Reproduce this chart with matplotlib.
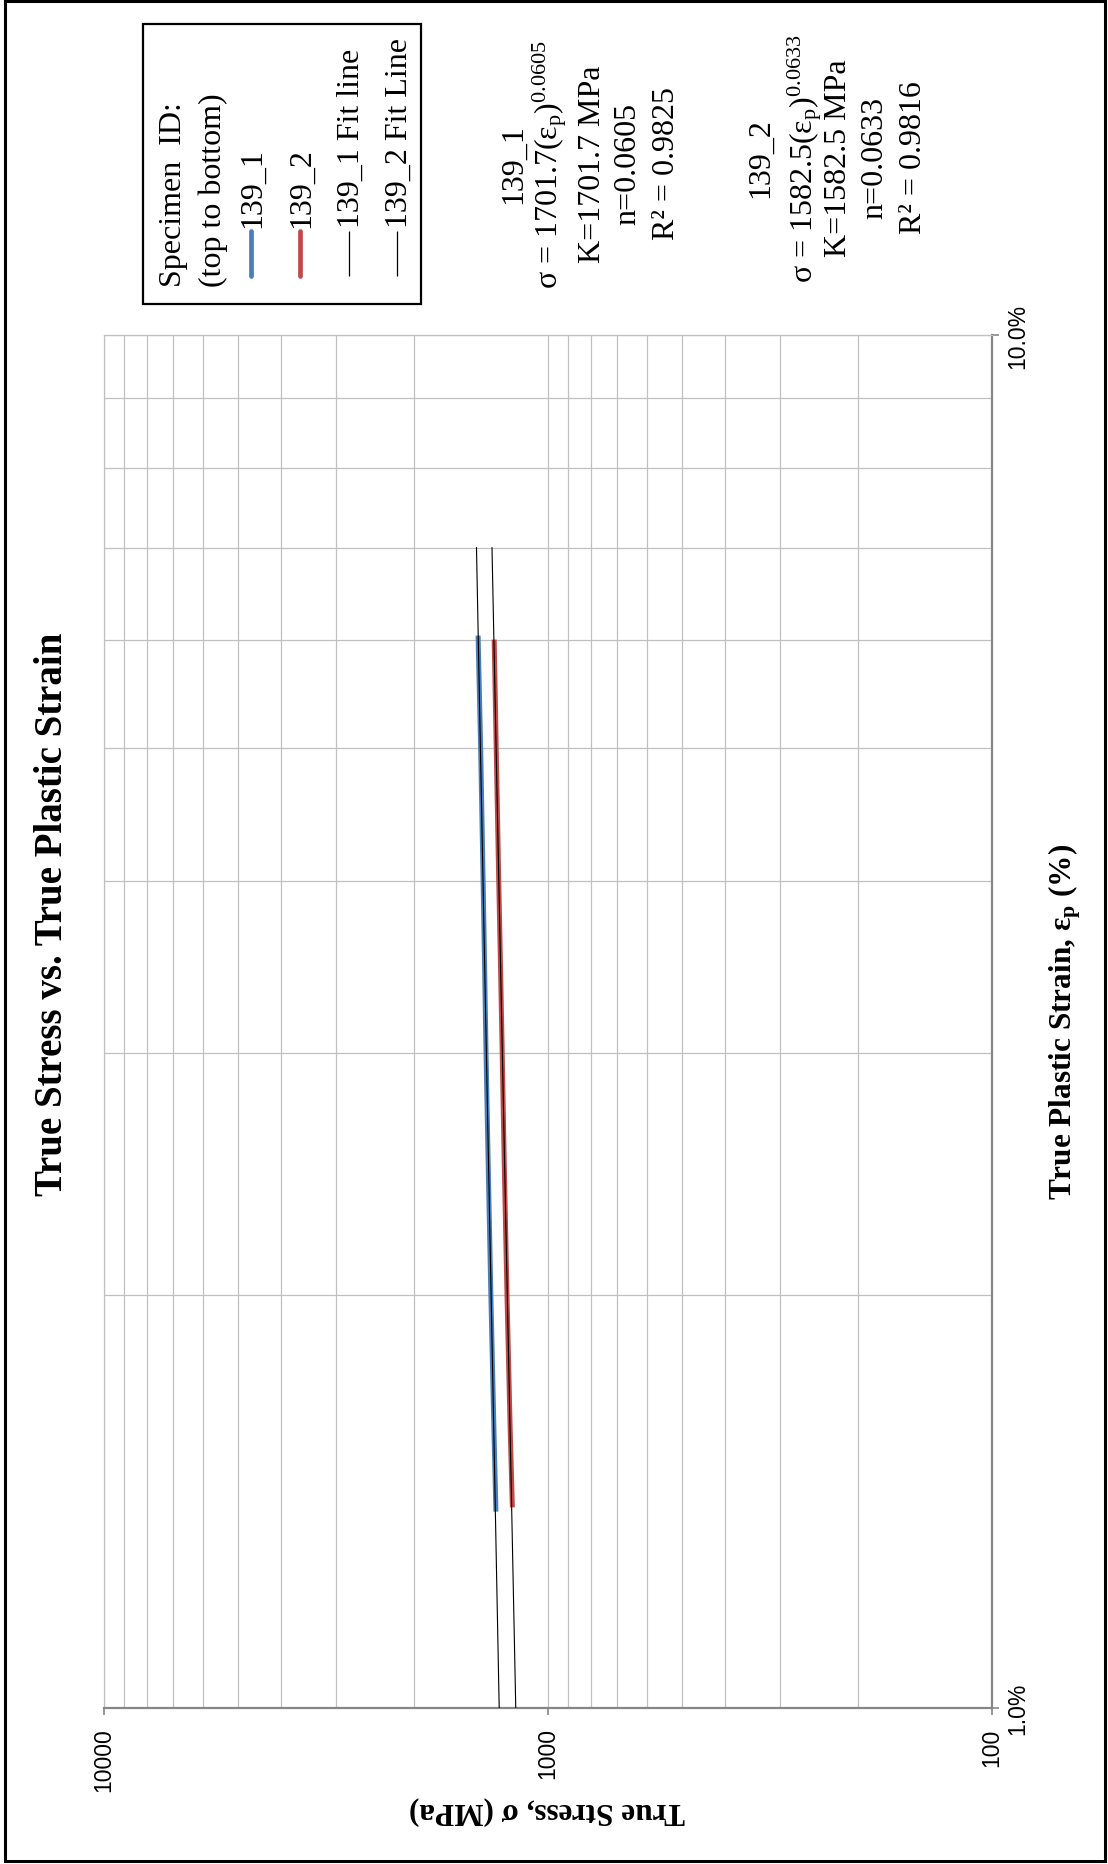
import numpy as np
import matplotlib
matplotlib.use("Agg")
import matplotlib.pyplot as plt
from matplotlib.ticker import LogLocator, NullFormatter
from matplotlib.patches import Rectangle
from matplotlib.lines import Line2D

plt.rcParams['font.family'] = ['Liberation Serif', 'DejaVu Serif']
plt.rcParams['mathtext.default'] = 'regular'

# data (strain as fraction, stress in MPa)
strain_1 = [0.0139, 0.016, 0.020, 0.025, 0.030, 0.035, 0.040, 0.050, 0.0604]
stress_1 = [1310, 1324, 1345, 1364, 1379, 1390, 1400, 1418, 1437]
strain_2 = [0.0140, 0.016, 0.020, 0.025, 0.030, 0.035, 0.040, 0.050, 0.060]
stress_2 = [1203, 1217, 1237, 1255, 1268, 1280, 1291, 1308, 1322]

# power-law fit lines (straight on log-log), endpoints at 1% and 7%
fit_strain = [0.01, 0.07]
fit1_stress = [1288, 1449]
fit2_stress = [1182, 1337]

stress_ticks = [100, 1000, 10000]
stress_labels = ['100', '1000', '10000']
strain_ticks = [0.01, 0.1]
strain_labels = ['1.0%', '10.0%']

legend_labels = ['139_1', '139_2', '139_1 Fit line', '139_2 Fit Line']
legend_colors = ['#4a7ebb', '#be4b48', 'black', 'black']

block1 = ['139_1', 'σ = 1701.7(ε$_{p}$)$^{0.0605}$', 'K=1701.7 MPa', 'n=0.0605', 'R² = 0.9825']
block2 = ['139_2', 'σ = 1582.5(ε$_{p}$)$^{0.0633}$', 'K=1582.5 MPa', 'n=0.0633', 'R² = 0.9816']

W, H = 1108, 1865
fig = plt.figure(figsize=(W / 100, H / 100), dpi=100)


def fx(px):
    return px / W


def fy(py):
    return 1 - py / H


# chart is drawn rotated: stress runs right-to-left, strain runs bottom-to-top
ax = fig.add_axes([fx(104), fy(1709), fx(992) - fx(104), fy(336) - fy(1709)])
ax.set_xscale('log')
ax.set_yscale('log')

grid_c = '#c0c0c0'
axis_c = '#868686'

ax.plot(stress_1, strain_1, color=legend_colors[0], lw=3.6, solid_capstyle='butt', zorder=3)
ax.plot(stress_2, strain_2, color=legend_colors[1], lw=3.6, solid_capstyle='butt', zorder=3)
ax.plot(fit1_stress, fit_strain, color='black', lw=0.8, zorder=4)
ax.plot(fit2_stress, fit_strain, color='black', lw=0.8, zorder=4)

ax.set_xlim(10000, 100)
ax.set_ylim(0.01, 0.1)

ax.xaxis.set_minor_locator(LogLocator(base=10, subs=np.arange(2, 10)))
ax.yaxis.set_minor_locator(LogLocator(base=10, subs=np.arange(2, 10)))
ax.xaxis.set_minor_formatter(NullFormatter())
ax.yaxis.set_minor_formatter(NullFormatter())
ax.set_xticks(stress_ticks, stress_labels, rotation=90, family='Liberation Sans', fontsize=16.5)
ax.yaxis.tick_right()
ax.set_yticks(strain_ticks, strain_labels, rotation=90, va='center',
              family='Liberation Sans', fontsize=16.5)
ax.tick_params(which='major', length=5, width=1.2, color=axis_c, direction='out')
ax.tick_params(axis='x', which='major', pad=9)
ax.tick_params(axis='y', which='major', pad=5)
ax.tick_params(which='minor', length=0)
ax.grid(True, which='both', color=grid_c, lw=0.9)
ax.set_axisbelow(True)

for s in ['left', 'top']:
    ax.spines[s].set_color(grid_c)
    ax.spines[s].set_linewidth(0.9)
for s in ['bottom', 'right']:
    ax.spines[s].set_color(axis_c)
    ax.spines[s].set_linewidth(1.6)

# titles
fig.text(fx(53), fy(914), 'True Stress vs. True Plastic Strain', rotation=90,
         ha='center', va='center', fontsize=28, fontweight='bold')
fig.text(fx(1065), fy(1022), 'True Plastic Strain, ε$_{p}$ (%)', rotation=90,
         ha='center', va='center', fontsize=22.5, fontweight='bold')
fig.text(fx(547), fy(1811), 'True Stress, σ (MPa)', rotation=180,
         ha='center', va='center', fontsize=22.5, fontweight='bold')

# legend, drawn by hand because it is rotated
fig.add_artist(Rectangle((fx(143), fy(305)), fx(421) - fx(143), fy(25) - fy(305),
                         transform=fig.transFigure, fill=False, ec='black', lw=1.6))
fig.text(fx(173), fy(287), 'Specimen  ID:', rotation=90, ha='center', va='bottom', fontsize=23)
fig.text(fx(213), fy(287), '(top to bottom)', rotation=90, ha='center', va='bottom', fontsize=23)
leg_x = [251, 300, 349, 397]
for x, lab, c in zip(leg_x, legend_labels, legend_colors):
    lw = 3.4 if c != 'black' else 0.9
    fig.add_artist(Line2D([fx(x), fx(x)], [fy(277), fy(232)], transform=fig.transFigure,
                          color=c, lw=lw, solid_capstyle='round' if c != 'black' else 'butt'))
    fig.text(fx(x + 2), fy(228), lab, rotation=90, ha='center', va='bottom', fontsize=23)

# fit equations
for x, line in zip([514, 550, 592, 628, 666], block1):
    fig.text(fx(x), fy(164), line, rotation=90, ha='center', va='center', fontsize=23)
for x, line in zip([761, 805, 839, 875, 913], block2):
    fig.text(fx(x), fy(158), line, rotation=90, ha='center', va='center', fontsize=23)

# outer frame
fig.add_artist(Rectangle((fx(5), fy(1862)), fx(1105) - fx(5), fy(2) - fy(1862),
                         transform=fig.transFigure, fill=False, ec='black', lw=2.2))

fig.savefig('out.png', dpi=100)
